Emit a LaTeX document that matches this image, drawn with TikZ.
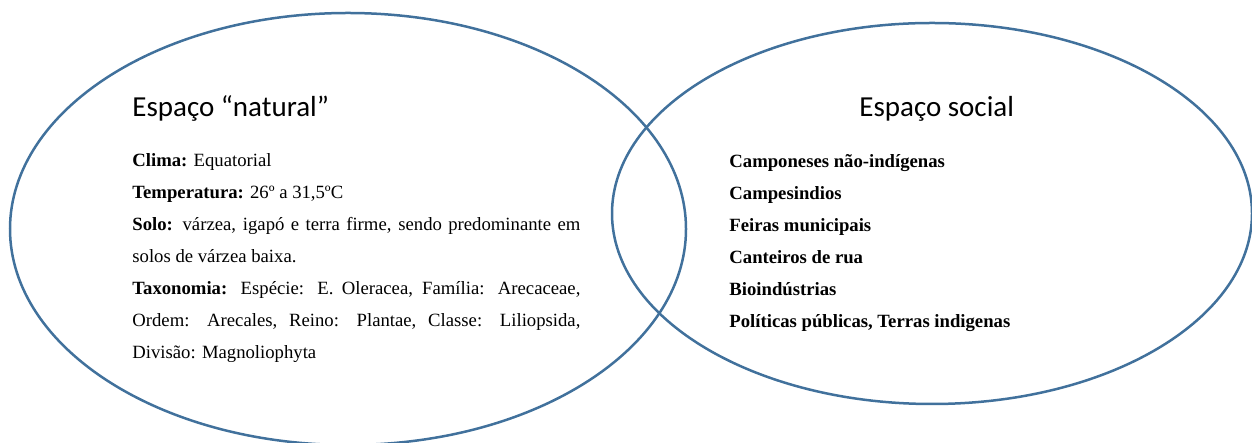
\documentclass[tikz,border=0pt]{standalone}
\usepackage{fontspec}
\setmainfont{Liberation Serif}
\newfontfamily\headfont{Carlito}
\definecolor{setblue}{HTML}{41719C}
\tikzset{
  setline/.style={draw=setblue, line width=1.25pt},
  heading/.style={anchor=base west, inner sep=0pt, font=\headfont\fontsize{14.5}{17}\selectfont},
  body/.style={inner sep=0pt, font=\fontsize{9.35}{16}\selectfont},
  actor/.style={body, anchor=base west, font=\bfseries\fontsize{9.35}{16}\selectfont},
}
\begin{document}
\begin{tikzpicture}[x=0.5pt, y=0.5pt]
   \useasboundingbox (0,0) rectangle (1252,443);

   % the two sets
   \draw[setline] (348,214) ellipse [x radius=338, y radius=216];
   \draw[setline] (932,229.5) ellipse [x radius=320, y radius=190.5];

   \node (natural) [heading] at (132,326) {Espaço “natural”};
   \node (social) [heading] at (859,326) {Espaço social};

   \node (traits) [body, anchor=north west, text width=224pt, align=justify] at (132,290)
     {\textbf{Clima:} Equatorial\par
      \textbf{Temperatura:} 26º a 31,5ºC\par
      \textbf{Solo:} várzea, igapó e terra firme, sendo predominante em\linebreak
      solos de várzea baixa.\par
      \textbf{Taxonomia:} Espécie: E. Oleracea, Família: Arecaceae,\linebreak
      Ordem: Arecales, Reino: Plantae, Classe: Liliopsida,\linebreak
      Divisão: Magnoliophyta};

   \foreach \name [count=\i] in {Camponeses não-indígenas, Campesindios,
       Feiras municipais, Canteiros de rua, Bioindústrias,
       {Políticas públicas, Terras indigenas}}
     \node (actor\i) [actor] at (729,{275-32*(\i-1)}) {\name};
\end{tikzpicture}
\end{document}
